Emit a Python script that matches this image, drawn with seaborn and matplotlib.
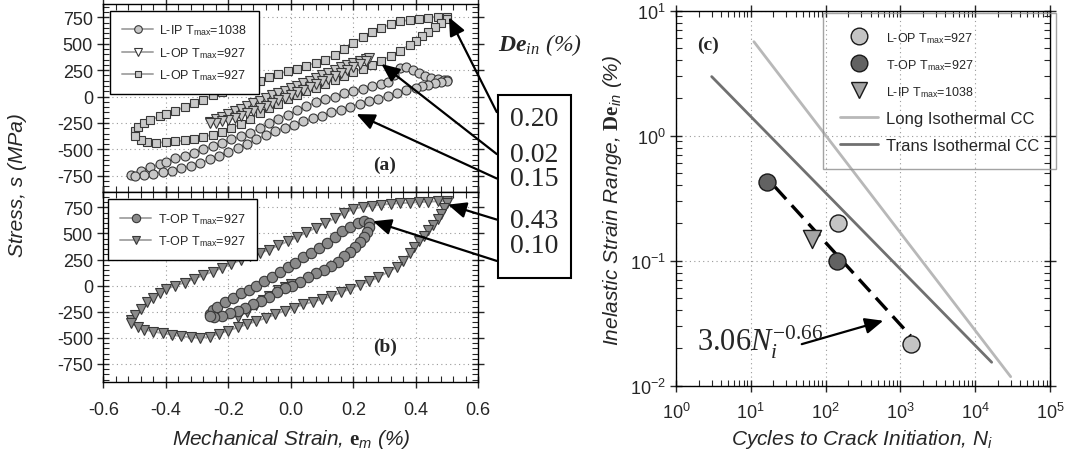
import matplotlib
matplotlib.use("Agg")
import matplotlib.pyplot as plt
import seaborn as sns
from matplotlib.lines import Line2D
from matplotlib.patches import Rectangle
from matplotlib.ticker import MultipleLocator, LogLocator, NullFormatter

# ---------------- Panel (a): longitudinal loops ----------------
lip_strain = [-0.51, -0.48, -0.45, -0.42, -0.40, -0.37, -0.34, -0.31, -0.28, -0.25, -0.22, -0.19, -0.16,
              -0.13, -0.10, -0.07, -0.04, -0.01, 0.02, 0.05, 0.08, 0.11, 0.14, 0.17, 0.20, 0.23, 0.26,
              0.29, 0.31, 0.33, 0.35, 0.37, 0.39, 0.41, 0.43, 0.45, 0.47, 0.49, 0.50,
              0.50, 0.48, 0.46, 0.44, 0.42, 0.40, 0.37, 0.34, 0.31, 0.28, 0.25, 0.22, 0.19, 0.16, 0.13,
              0.10, 0.07, 0.04, 0.01, -0.02, -0.05, -0.08, -0.11, -0.14, -0.17, -0.20, -0.23, -0.26,
              -0.29, -0.32, -0.35, -0.38, -0.41, -0.44, -0.47, -0.50]
lip_stress = [-745, -700, -670, -640, -615, -585, -560, -530, -500, -470, -440, -405, -375,
              -345, -300, -255, -210, -170, -130, -90, -55, -25, 0, 30, 50, 75, 95,
              120, 140, 200, 270, 280, 255, 220, 190, 175, 165, 160, 160,
              150, 140, 125, 112, 100, 85, 60, 30, 5, -20, -40, -70, -95, -125, -150,
              -180, -205, -235, -265, -295, -330, -365, -405, -445, -485, -520, -560, -595,
              -630, -655, -680, -700, -715, -730, -740, -750]

lop02_strain = [-0.26, -0.24, -0.22, -0.20, -0.18, -0.16, -0.14, -0.12, -0.10, -0.08, -0.06, -0.04, -0.02,
                0.0, 0.02, 0.04, 0.06, 0.08, 0.10, 0.12, 0.14, 0.16, 0.18, 0.20, 0.22, 0.24, 0.25,
                0.24, 0.22, 0.20, 0.18, 0.16, 0.14, 0.12, 0.10, 0.08, 0.06, 0.04, 0.02, 0.0,
                -0.02, -0.04, -0.06, -0.08, -0.10, -0.12, -0.14, -0.16, -0.18, -0.20, -0.22, -0.24, -0.26]
lop02_stress = [-245, -215, -190, -165, -140, -115, -90, -65, -40, -15, 10, 35, 55,
                80, 100, 125, 150, 175, 200, 225, 250, 275, 300, 320, 340, 355, 360,
                335, 305, 280, 250, 225, 195, 170, 145, 115, 90, 65, 40, 15,
                -10, -35, -60, -85, -110, -135, -160, -180, -200, -220, -235, -250, -255]

lop20_strain = [-0.50, -0.49, -0.47, -0.45, -0.42, -0.40, -0.37, -0.34, -0.31, -0.28, -0.25, -0.22, -0.19,
                -0.16, -0.13, -0.10, -0.07, -0.04, -0.01, 0.02, 0.05, 0.08, 0.11, 0.14, 0.17, 0.20,
                0.23, 0.26, 0.29, 0.32, 0.35, 0.38, 0.41, 0.44, 0.47, 0.50,
                0.50, 0.48, 0.46, 0.44, 0.42, 0.40, 0.38, 0.35, 0.32, 0.29, 0.26, 0.23, 0.20, 0.17,
                0.14, 0.11, 0.08, 0.05, 0.02, -0.01, -0.04, -0.07, -0.10, -0.13, -0.16, -0.19, -0.22,
                -0.25, -0.28, -0.31, -0.34, -0.37, -0.40, -0.43, -0.46, -0.48, -0.50]
lop20_stress = [-330, -290, -250, -225, -185, -165, -135, -100, -65, -30, 10, 45, 75,
                100, 125, 150, 180, 215, 240, 265, 290, 320, 350, 390, 445, 505,
                560, 610, 650, 685, 710, 725, 735, 745, 755, 755,
                735, 695, 655, 610, 570, 525, 490, 435, 385, 340, 300, 265, 230, 195,
                160, 120, 85, 50, 15, -25, -70, -110, -160, -210, -260, -300, -335,
                -360, -380, -400, -415, -425, -432, -436, -432, -410, -370]

# ---------------- Panel (b): transverse loops ----------------
top10_strain = [-0.26, -0.25, -0.235, -0.21, -0.185, -0.16, -0.135, -0.11, -0.085, -0.06, -0.035, -0.01,
                0.015, 0.04, 0.065, 0.09, 0.115, 0.14, 0.165, 0.19, 0.215, 0.235, 0.25,
                0.25, 0.245, 0.235, 0.22, 0.205, 0.19, 0.17, 0.15, 0.13, 0.105, 0.08, 0.055, 0.03,
                0.005, -0.02, -0.045, -0.07, -0.095, -0.12, -0.145, -0.17, -0.195, -0.22, -0.245, -0.26]
top10_stress = [-275, -235, -200, -160, -115, -75, -40, -5, 40, 85, 130, 175,
                220, 270, 315, 360, 410, 465, 520, 565, 600, 615, 600,
                560, 510, 465, 420, 370, 320, 280, 230, 185, 150, 120, 85, 35,
                0, -25, -60, -110, -150, -180, -210, -240, -265, -290, -300, -290]

top43_init_strain = [0.0, -0.02, -0.04, -0.07, -0.09, -0.11, -0.14, -0.17]
top43_init_stress = [20, -10, -40, -95, -140, -190, -250, -300]

top43_strain = [-0.51, -0.50, -0.48, -0.46, -0.44, -0.42, -0.40, -0.37, -0.34, -0.31, -0.28, -0.25, -0.22,
                -0.19, -0.16, -0.13, -0.10, -0.07, -0.04, -0.01, 0.02, 0.05, 0.08, 0.11, 0.14, 0.17,
                0.20, 0.23, 0.26, 0.29, 0.32, 0.35, 0.38, 0.41, 0.44, 0.47, 0.50,
                0.50, 0.49, 0.48, 0.47, 0.455, 0.44, 0.425, 0.41, 0.395, 0.38, 0.36, 0.34, 0.31, 0.28,
                0.25, 0.22, 0.19, 0.16, 0.13, 0.10, 0.07, 0.04, 0.01, -0.02, -0.05, -0.08, -0.11,
                -0.14, -0.17, -0.20, -0.23, -0.26, -0.29, -0.32, -0.35, -0.38, -0.41, -0.44, -0.47,
                -0.49, -0.51]
top43_stress = [-330, -285, -220, -160, -115, -75, -35, 0, 30, 65, 100, 135, 170,
                210, 245, 280, 310, 345, 385, 425, 465, 510, 555, 600, 645, 695,
                735, 755, 765, 775, 785, 790, 795, 800, 805, 808, 810,
                790, 740, 690, 640, 585, 530, 480, 430, 370, 310, 240, 180, 130, 80,
                40, 10, -30, -65, -100, -130, -155, -180, -210, -240, -275, -310, -340,
                -370, -400, -430, -460, -490, -500, -495, -485, -470, -455, -440, -420,
                -395, -360]

# ---------------- Panel (c): strain-life ----------------
lop_N = [148, 1370]
lop_de = [0.20, 0.0215]
top_N = [16.6, 141]
top_de = [0.424, 0.10]
lip_N = [66]
lip_de = [0.149]
long_N = [11, 29800]
long_de = [5.65, 0.0118]
trans_N = [3.0, 16600]
trans_de = [2.97, 0.0154]
fit_N = [21, 1370]
fit_de = [0.39, 0.025]

de_labels = ["0.20", "0.02", "0.15", "0.43", "0.10"]

# ---------------- Style ----------------
sns.set_style("ticks")
plt.rcParams["font.family"] = ["Liberation Sans", "DejaVu Sans"]
plt.rcParams["axes.unicode_minus"] = False
plt.rcParams["mathtext.fontset"] = "custom"
plt.rcParams["mathtext.rm"] = "Liberation Serif"
plt.rcParams["mathtext.it"] = "Liberation Serif:italic"
plt.rcParams["mathtext.bf"] = "Liberation Serif:bold"
plt.rcParams["mathtext.bfit"] = "Liberation Serif:italic:bold"
plt.rcParams["mathtext.sf"] = "Liberation Sans"
plt.rcParams["mathtext.tt"] = "Liberation Sans:italic"
plt.rcParams["axes.edgecolor"] = "black"
plt.rcParams["axes.linewidth"] = 1.0

fig = plt.figure(figsize=(10.7, 4.64), dpi=100)
W, H = 1070.0, 464.0
axa = fig.add_axes([103.3 / W, 1 - 192.7 / H, 375 / W, 187.7 / H])
axb = fig.add_axes([103.3 / W, 1 - 382.7 / H, 375 / W, 190 / H], sharex=axa)
axc = fig.add_axes([676 / W, 1 - 386.7 / H, 374 / W, 375 / H])

line_gray = "#a8a8a8"
edge = "#383838"
light = "#c8c8c8"
mid = "#8a8a8a"

common = dict(sort=False, estimator=None, color=line_gray, lw=1.4, markeredgecolor=edge,
              markeredgewidth=0.8, zorder=3)
sns.lineplot(x=lip_strain, y=lip_stress, ax=axa, marker="o", markersize=6.5,
             markerfacecolor=light, **common)
sns.lineplot(x=lop20_strain, y=lop20_stress, ax=axa, marker="s", markersize=6,
             markerfacecolor=light, **common)
sns.lineplot(x=lop02_strain, y=lop02_stress, ax=axa, marker="v", markersize=6.5,
             markerfacecolor=light, **common)

sns.lineplot(x=top43_strain, y=top43_stress, ax=axb, marker="v", markersize=7.5,
             markerfacecolor=mid, **common)
sns.lineplot(x=top43_init_strain, y=top43_init_stress, ax=axb, marker="v", markersize=7.5,
             markerfacecolor=mid, **common)
sns.lineplot(x=top10_strain, y=top10_stress, ax=axb, marker="o", markersize=7.5,
             markerfacecolor=mid, **common)

for ax, ylim in ((axa, (-900, 875)), (axb, (-920, 900))):
    ax.set_xlim(-0.6, 0.6)
    ax.set_ylim(*ylim)
    ax.xaxis.set_major_locator(MultipleLocator(0.2))
    ax.xaxis.set_minor_locator(MultipleLocator(0.04))
    ax.yaxis.set_major_locator(MultipleLocator(250))
    ax.yaxis.set_minor_locator(MultipleLocator(50))
    ax.grid(True, which="major", linestyle=(0, (1, 3)), color="#9a9a9a", lw=0.8)
    ax.tick_params(which="major", direction="inout", length=8, width=1, top=True, right=True,
                   labelsize=13)
    ax.tick_params(which="minor", direction="in", length=4, width=0.8, top=True, right=True)
    ax.set_xlabel("")
    ax.set_ylabel("")
    ax.set_yticks([-750, -500, -250, 0, 250, 500, 750])
    ax.set_yticklabels(["-750", "-500", "-250", "0", "250", "500", "750"])
plt.setp(axa.get_xticklabels(), visible=False)
axb.set_xticks([-0.6, -0.4, -0.2, 0.0, 0.2, 0.4, 0.6])
axb.set_xticklabels(["-0.6", "-0.4", "-0.2", "0.0", "0.2", "0.4", "0.6"])
axb.tick_params(axis="x", pad=10)

# legends (a) and (b)
def lh(marker, fc, ms):
    return Line2D([], [], color=line_gray, lw=1.4, marker=marker, markersize=ms,
                  markerfacecolor=fc, markeredgecolor=edge, markeredgewidth=0.8)

leg_kw = dict(loc="upper left", bbox_transform=fig.transFigure, fontsize=9, frameon=True,
              fancybox=False, edgecolor="black", framealpha=1, handlelength=2.5,
              labelspacing=0.6, borderpad=0.95, handletextpad=0.5, borderaxespad=0)
leg_a = axa.legend([lh("o", light, 5.5), lh("v", "white", 5.5), lh("s", light, 5)],
                   ["L-IP T$_{\\mathsf{max}}$=1038", "L-OP T$_{\\mathsf{max}}$=927",
                    "L-OP T$_{\\mathsf{max}}$=927"],
                   bbox_to_anchor=(110 / W, 1 - 11.7 / H), **leg_kw)
leg_a.get_frame().set_linewidth(1.0)
leg_b = axb.legend([lh("o", mid, 6), lh("v", mid, 6)],
                   ["T-OP T$_{\\mathsf{max}}$=927", "T-OP T$_{\\mathsf{max}}$=927"],
                   bbox_to_anchor=(108.3 / W, 1 - 200 / H), **leg_kw)
leg_b.get_frame().set_linewidth(1.0)

# panel labels
fig.text(385 / W, 1 - 165 / H, "(a)", family="Liberation Serif", weight="bold", fontsize=14,
         ha="center", va="center")
fig.text(385 / W, 1 - 347 / H, "(b)", family="Liberation Serif", weight="bold", fontsize=14,
         ha="center", va="center")

# axis labels for (a)/(b)
fig.text(291 / W, 1 - 440 / H, "Mechanical Strain, $\\mathbf{e}_{\\mathtt{m}}$ (%)",
         style="italic", fontsize=15, ha="center", va="center")
fig.text(18 / W, 1 - 185 / H, "Stress, s (MPa)", style="italic", fontsize=15,
         ha="center", va="center", rotation=90)

# delta-epsilon box with arrows
fig.patches.append(Rectangle((497.7 / W, 1 - 279.3 / H), 73 / W, 183.3 / H,
                             transform=fig.transFigure, fill=True, facecolor="white",
                             edgecolor="black", lw=1.5, zorder=5))
label_y = [120, 155, 180, 222, 247]
for lab, yy in zip(de_labels, label_y):
    fig.text(534 / W, 1 - yy / H, lab, family="Liberation Serif", fontsize=20,
             ha="center", va="center", zorder=6)
fig.text(540 / W, 1 - 45 / H, "$\\mathbfit{De}_{in}$ (%)", family="Liberation Serif",
         style="italic", fontsize=17, ha="center", va="center")

arrow_kw = dict(arrowstyle="-|>,head_length=0.5,head_width=0.22", color="black", lw=1.6,
                shrinkA=0, shrinkB=0, mutation_scale=22)
axa.annotate("", xy=(0.506, 750), xytext=(0.659, -147), arrowprops=arrow_kw,
             annotation_clip=False)
axa.annotate("", xy=(0.29, 308), xytext=(0.659, -544), arrowprops=arrow_kw,
             annotation_clip=False)
axa.annotate("", xy=(0.21, -166), xytext=(0.659, -775), arrowprops=arrow_kw,
             annotation_clip=False)
axb.annotate("", xy=(0.503, 776), xytext=(0.659, 633), arrowprops=arrow_kw,
             annotation_clip=False)
axb.annotate("", xy=(0.263, 617), xytext=(0.659, 237), arrowprops=arrow_kw,
             annotation_clip=False)

# ---------------- Panel (c) ----------------
c_light = "#c4c4c4"
c_dark = "#626262"
c_tri = "#a4a4a4"
long_col = "#b8b8b8"
trans_col = "#707070"

sns.lineplot(x=long_N, y=long_de, ax=axc, color=long_col, lw=2, zorder=2)
sns.lineplot(x=trans_N, y=trans_de, ax=axc, color=trans_col, lw=2, zorder=2)
sns.lineplot(x=fit_N, y=fit_de, ax=axc, color="black", lw=2.4, zorder=3,
             linestyle=(0, (5, 2.5)))
sns.scatterplot(x=lop_N, y=lop_de, ax=axc, s=150, color=c_light, edgecolor="#1a1a1a",
                linewidth=1, zorder=4)
sns.scatterplot(x=top_N, y=top_de, ax=axc, s=150, color=c_dark, edgecolor="#1a1a1a",
                linewidth=1, zorder=4)
sns.scatterplot(x=lip_N, y=lip_de, ax=axc, s=170, marker="v", color=c_tri,
                edgecolor="#1a1a1a", linewidth=1, zorder=4)

axc.set_xscale("log")
axc.set_yscale("log")
axc.set_xlim(1, 1e5)
axc.set_ylim(1e-2, 1e1)
axc.xaxis.set_major_locator(LogLocator(base=10, numticks=10))
axc.yaxis.set_major_locator(LogLocator(base=10, numticks=10))
axc.xaxis.set_minor_locator(LogLocator(base=10, subs=range(2, 10), numticks=20))
axc.yaxis.set_minor_locator(LogLocator(base=10, subs=range(2, 10), numticks=20))
axc.xaxis.set_minor_formatter(NullFormatter())
axc.yaxis.set_minor_formatter(NullFormatter())
axc.grid(True, which="major", linestyle=(0, (1, 3)), color="#9a9a9a", lw=0.8)
axc.tick_params(which="major", direction="inout", length=8, width=1, top=True, right=True,
                labelsize=13)
axc.tick_params(which="minor", direction="in", length=4, width=0.8, top=True, right=True)
axc.tick_params(axis="x", pad=8)
axc.set_xlabel("")
axc.set_ylabel("")

fig.text(862 / W, 1 - 440 / H, "Cycles to Crack Initiation, $\\mathtt{N}_{\\mathtt{i}}$",
         style="italic", fontsize=15, ha="center", va="center")
fig.text(612 / W, 1 - 200 / H, "Inelastic Strain Range, $\\mathbf{De}_{\\mathtt{in}}$ (%)",
         style="italic", fontsize=15, ha="center", va="center", rotation=90)
fig.text(708 / W, 1 - 45 / H, "(c)", family="Liberation Serif", weight="bold", fontsize=14,
         ha="center", va="center")

axc.text(1.9, 0.019, "$3.06N_i^{-0.66}$", fontsize=22, ha="left", va="baseline", zorder=6)
axc.annotate("", xy=(590, 0.0331), xytext=(48, 0.0215),
             arrowprops=dict(arrowstyle="-|>,head_length=0.5,head_width=0.22", color="black",
                             lw=1.6, shrinkA=0, shrinkB=0, mutation_scale=22))

def mh(marker, fc, ms):
    return Line2D([], [], ls="none", marker=marker, markersize=ms, markerfacecolor=fc,
                  markeredgecolor="#1a1a1a", markeredgewidth=1)

leg_c = axc.legend([mh("o", c_light, 12), mh("o", c_dark, 12), mh("v", c_tri, 12),
                    Line2D([], [], color=long_col, lw=2), Line2D([], [], color=trans_col, lw=2)],
                   ["L-OP T$_{\\mathsf{max}}$=927", "T-OP T$_{\\mathsf{max}}$=927",
                    "L-IP T$_{\\mathsf{max}}$=1038", "Long Isothermal CC",
                    "Trans Isothermal CC"],
                   loc="upper left", bbox_to_anchor=(823 / W, 1 - 14 / H),
                   bbox_transform=fig.transFigure, fontsize=12, frameon=True, fancybox=False,
                   edgecolor="#8c8c8c", handlelength=2.3, handletextpad=0.5,
                   labelspacing=0.7, borderpad=1.0, borderaxespad=0)
leg_c.get_frame().set_facecolor("none")
leg_c.get_frame().set_linewidth(1.0)
for t in leg_c.get_texts()[:3]:
    t.set_fontsize(9)

fig.savefig("out.png", dpi=100)
